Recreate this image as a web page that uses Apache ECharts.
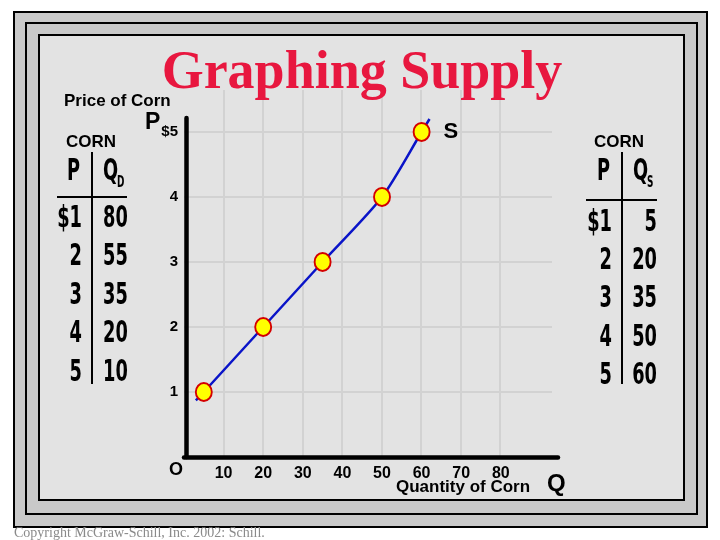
<!DOCTYPE html>
<html>
<head>
<meta charset="utf-8">
<script src="https://cdn.jsdelivr.net/npm/echarts@6/dist/echarts.min.js"></script>
<style>
  html, body { margin: 0; padding: 0; background: #fff; }
  #main { width: 720px; height: 540px; }
</style>
</head>
<body>
<div id="main"></div>
<script>
// corn schedules
let prices = [1, 2, 3, 4, 5];
let priceLabels = ['$1', '2', '3', '4', '5'];
let qDemand = [80, 55, 35, 20, 10];
let qSupply = [5, 20, 35, 50, 60];
// the drawn S curve runs a little past the first and last point
let curveQ = [3, 5, 20, 35, 50, 60, 62];
let curveP = [0.87, 1, 2, 3, 4, 5, 5.2];
// axis labels
let xTickValues = [10, 20, 30, 40, 50, 60, 70, 80];
let yTickValues = [1, 2, 3, 4, 5];
let yTickLabels = ['1', '2', '3', '4', '$5'];

let sans = "'Liberation Sans', Arial, sans-serif";
let narrow = "'DejaVu Sans Condensed', 'DejaVu Sans', sans-serif";
let serif = "'Liberation Serif', 'Times New Roman', serif";

function txt(x, y, text, font, align, color) {
  return {
    type: 'text', z: 10, silent: true,
    style: { x: x, y: y, text: text, font: font, fill: color || '#000', textAlign: align || 'left', textVerticalAlign: 'middle' }
  };
}

// squeezed text for the condensed table figures
function tbl(x, y, text, size, align) {
  return {
    type: 'text', z: 10, silent: true, x: x, y: y, scaleX: 0.66,
    style: { x: 0, y: 0, text: text, font: 'bold ' + size + 'px ' + narrow, fill: '#000', textAlign: align || 'left', textVerticalAlign: 'middle' }
  };
}

let myChart = echarts.init(document.getElementById('main'));

let graphics = [
  // frames
  { type: 'rect', z: -100, shape: { x: 14, y: 12, width: 693, height: 515 }, style: { fill: '#c9c9c9', stroke: '#000', lineWidth: 2 } },
  { type: 'rect', z: -99, shape: { x: 26, y: 23, width: 671, height: 491 }, style: { fill: '#c9c9c9', stroke: '#000', lineWidth: 2 } },
  { type: 'rect', z: -98, shape: { x: 39, y: 35, width: 645, height: 465 }, style: { fill: '#e3e3e3', stroke: '#000', lineWidth: 2 } },
  txt(362, 74, 'Graphing Supply', 'bold 54px ' + serif, 'center', '#e8173f'),
  txt(64, 101, 'Price of Corn', 'bold 17px ' + sans),
  txt(66, 142, 'CORN', 'bold 17px ' + sans),
  txt(594, 142, 'CORN', 'bold 17px ' + sans),
  txt(145, 123, 'P', 'bold 23px ' + sans),
  txt(176, 470, 'O', 'bold 18px ' + sans, 'center'),
  txt(396, 487, 'Quantity of Corn', 'bold 17px ' + sans),
  txt(547, 484, 'Q', 'bold 24px ' + sans),
  txt(14, 533, 'Copyright McGraw-Schill, Inc. 2002: Schill.', '14px ' + serif, 'left', '#8a8a8a'),
  // table headers
  tbl(67, 172, 'P', 30),
  tbl(103, 172, 'Q', 30),
  tbl(117, 183, 'D', 15),
  tbl(597, 172, 'P', 30),
  tbl(633, 172, 'Q', 30),
  tbl(647, 183, 'S', 15),
  // table rules
  { type: 'line', z: 10, shape: { x1: 92, y1: 152, x2: 92, y2: 384 }, style: { stroke: '#000', lineWidth: 2 } },
  { type: 'line', z: 10, shape: { x1: 57, y1: 197, x2: 127, y2: 197 }, style: { stroke: '#000', lineWidth: 2 } },
  { type: 'line', z: 10, shape: { x1: 622, y1: 152, x2: 622, y2: 384 }, style: { stroke: '#000', lineWidth: 2 } },
  { type: 'line', z: 10, shape: { x1: 586, y1: 200, x2: 657, y2: 200 }, style: { stroke: '#000', lineWidth: 2 } }
];

// table rows
prices.forEach(function (p, i) {
  graphics.push(tbl(82, 219 + i * 38.5, priceLabels[i], 30, 'right'));
  graphics.push(tbl(103, 219 + i * 38.5, String(qDemand[i]), 30, 'left'));
  graphics.push(tbl(612, 223 + i * 38.3, priceLabels[i], 30, 'right'));
  graphics.push(tbl(657, 223 + i * 38.3, String(qSupply[i]), 30, 'right'));
});

let hidden = { show: false };

let option = {
  animation: false,
  backgroundColor: '#fff',
  graphic: graphics,
  grid: [
    // vertical grid lines
    { left: 184, right: 220, top: 90, bottom: 83 },
    // horizontal grid lines
    { left: 184, right: 168, top: 132, bottom: 83 },
    // data + axes
    { left: 184, right: 162, top: 118, bottom: 83 }
  ],
  xAxis: [
    {
      gridIndex: 0, type: 'value', min: 0, max: 80, interval: 10,
      axisLine: hidden, axisTick: hidden, axisLabel: hidden,
      splitLine: { show: true, showMinLine: false, showMaxLine: true, lineStyle: { color: '#d2d2d2', width: 2 } }
    },
    {
      gridIndex: 1, type: 'value', min: 0, max: 1,
      axisLine: hidden, axisTick: hidden, axisLabel: hidden, splitLine: hidden
    },
    {
      gridIndex: 2, type: 'value', min: 0, max: 94.44, interval: 10,
      axisLine: { show: true, lineStyle: { color: '#000', width: 4.5 } },
      axisTick: hidden, splitLine: hidden,
      axisLabel: {
        show: true, margin: 9, color: '#000', fontFamily: sans, fontWeight: 'bold', fontSize: 16,
        showMinLabel: true, showMaxLabel: false,
        formatter: function (v) { return xTickValues.indexOf(v) >= 0 ? String(v) : ''; }
      }
    }
  ],
  yAxis: [
    {
      gridIndex: 0, type: 'value', min: 0, max: 1,
      axisLine: hidden, axisTick: hidden, axisLabel: hidden, splitLine: hidden
    },
    {
      gridIndex: 1, type: 'value', min: 0, max: 5, interval: 1,
      axisLine: hidden, axisTick: hidden, axisLabel: hidden,
      splitLine: { show: true, showMinLine: false, showMaxLine: true, lineStyle: { color: '#d2d2d2', width: 2 } }
    },
    {
      gridIndex: 2, type: 'value', min: 0, max: 5.215, interval: 1, offset: -2,
      axisLine: { show: true, onZero: false, lineStyle: { color: '#000', width: 4.5 } },
      axisTick: hidden, splitLine: hidden,
      axisLabel: {
        show: true, margin: 8, color: '#000', fontFamily: sans, fontWeight: 'bold', fontSize: 15,
        showMaxLabel: false,
        formatter: function (v) {
          let k = yTickValues.indexOf(v);
          return k >= 0 ? yTickLabels[k] : '';
        }
      }
    }
  ],
  series: [
    {
      name: 'S curve', type: 'line', xAxisIndex: 2, yAxisIndex: 2,
      smooth: 0.25, showSymbol: false, silent: true, z: 3,
      lineStyle: { color: '#0a14c8', width: 2.5 },
      data: curveQ.map(function (q, i) { return [q, curveP[i]]; })
    },
    {
      name: 'Supply', type: 'scatter', xAxisIndex: 2, yAxisIndex: 2, z: 4,
      symbol: 'circle', symbolSize: [16, 18],
      itemStyle: { color: '#ffff00', borderColor: '#d40000', borderWidth: 2, opacity: 1 },
      label: {
        show: true, position: 'right', distance: 13, color: '#000',
        fontFamily: sans, fontWeight: 'bold', fontSize: 22,
        formatter: function (p) { return p.dataIndex === prices.length - 1 ? 'S' : ''; }
      },
      data: qSupply.map(function (q, i) { return [q, prices[i]]; })
    }
  ]
};

myChart.setOption(option);
</script>
</body>
</html>
